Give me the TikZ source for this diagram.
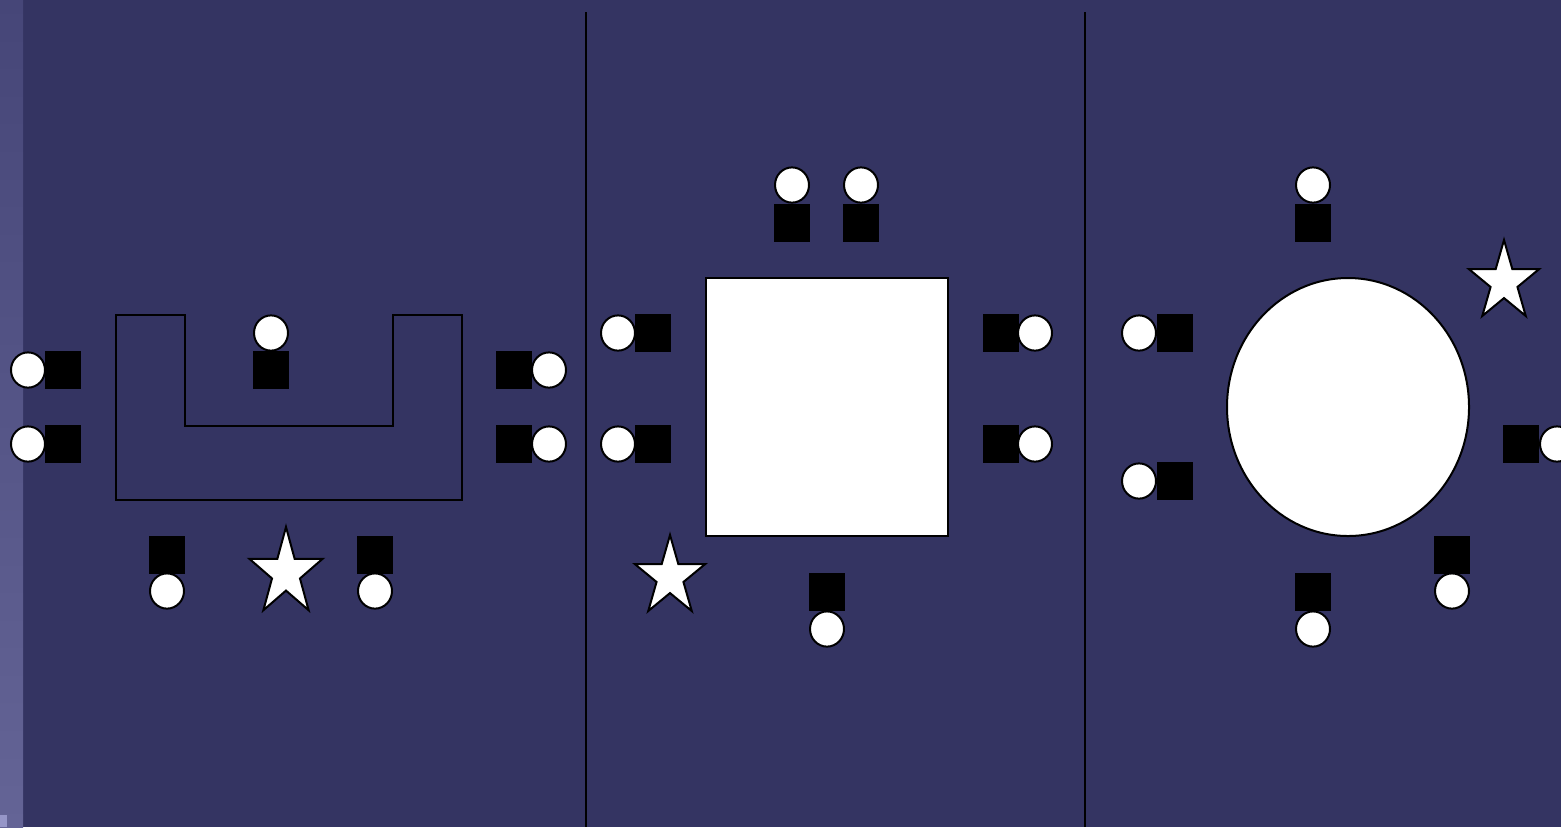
\documentclass[tikz,border=0pt]{standalone}
\usepackage{tikz}
\definecolor{bgc}{RGB}{52,52,98}
\definecolor{stripTop}{RGB}{70,70,120}
\definecolor{stripBot}{RGB}{100,100,150}
\definecolor{cornerc}{RGB}{150,150,200}
\tikzset{
  seat/.style={fill=black,draw=none},
  head/.style={fill=white,draw=black,line width=1pt},
  wall/.style={draw=black,line width=1pt},
  tabl/.style={fill=white,draw=black,line width=1pt},
  starsty/.style={fill=white,draw=black,line width=1pt,line join=miter},
  divider/.style={draw=black,line width=1pt}
}
\newcommand\chairhead[2]{\draw[head] (#1,#2) ellipse [x radius=8.5pt, y radius=8.8pt];}
\newcommand\chairseat[2]{\fill[seat] (#1,#2) rectangle ++(36,38);}
\newcommand\mystar[4]{%
  \begin{scope}[shift={(#1,#2)},xscale=#3,yscale=#4]
    \draw[starsty] (-90:1) -- (-54:0.382) -- (-18:1) -- (18:0.382) -- (54:1) -- (90:0.382) -- (126:1) -- (162:0.382) -- (198:1) -- (234:0.382) -- cycle;
  \end{scope}}
\begin{document}
\begin{tikzpicture}[x=0.5pt,y=-0.5pt]
\useasboundingbox (0,0) rectangle (1561,827);
\fill[bgc] (0,0) rectangle (1561,827);
\shade[top color=stripTop,bottom color=stripBot] (0,0) rectangle (23,827);
\fill[cornerc] (0,815) rectangle (7,827);
% dividers
\draw[divider] (586,12) -- (586,827);
\draw[divider] (1085,12) -- (1085,827);
% ---------- panel 1 ----------
\draw[wall] (116,315) -- (185,315) -- (185,426) -- (393,426) -- (393,315) -- (462,315) -- (462,500) -- (116,500) -- cycle;
\chairseat{45}{351}\chairhead{28}{370}
\chairseat{45}{425}\chairhead{28}{444}
\chairseat{253}{351}\chairhead{271}{333}
\chairseat{496}{351}\chairhead{549}{370}
\chairseat{496}{425}\chairhead{549}{444}
\chairseat{149}{536}\chairhead{167}{591}
\chairseat{357}{536}\chairhead{375}{591}
\mystar{286}{573}{38.5}{46}
% ---------- panel 2 ----------
\draw[tabl] (706,278) rectangle (948,536);
\chairseat{774}{204}\chairhead{792}{185}
\chairseat{843}{204}\chairhead{861}{185}
\chairseat{635}{314}\chairhead{618}{333}
\chairseat{635}{425}\chairhead{618}{444}
\chairseat{983}{314}\chairhead{1035}{333}
\chairseat{983}{425}\chairhead{1035}{444}
\chairseat{809}{573}\chairhead{827}{629}
\mystar{670}{577}{37}{42}
% ---------- panel 3 ----------
\draw[tabl] (1348,407) ellipse [x radius=60.5pt, y radius=64.5pt];
\chairseat{1295}{204}\chairhead{1313}{185}
\chairseat{1157}{314}\chairhead{1139}{333}
\chairseat{1157}{462}\chairhead{1139}{481}
\chairseat{1503}{425}\chairhead{1557}{444}
\chairseat{1295}{573}\chairhead{1313}{629}
\chairseat{1434}{536}\chairhead{1452}{591}
\mystar{1504}{282}{37}{42}
\end{tikzpicture}
\end{document}
